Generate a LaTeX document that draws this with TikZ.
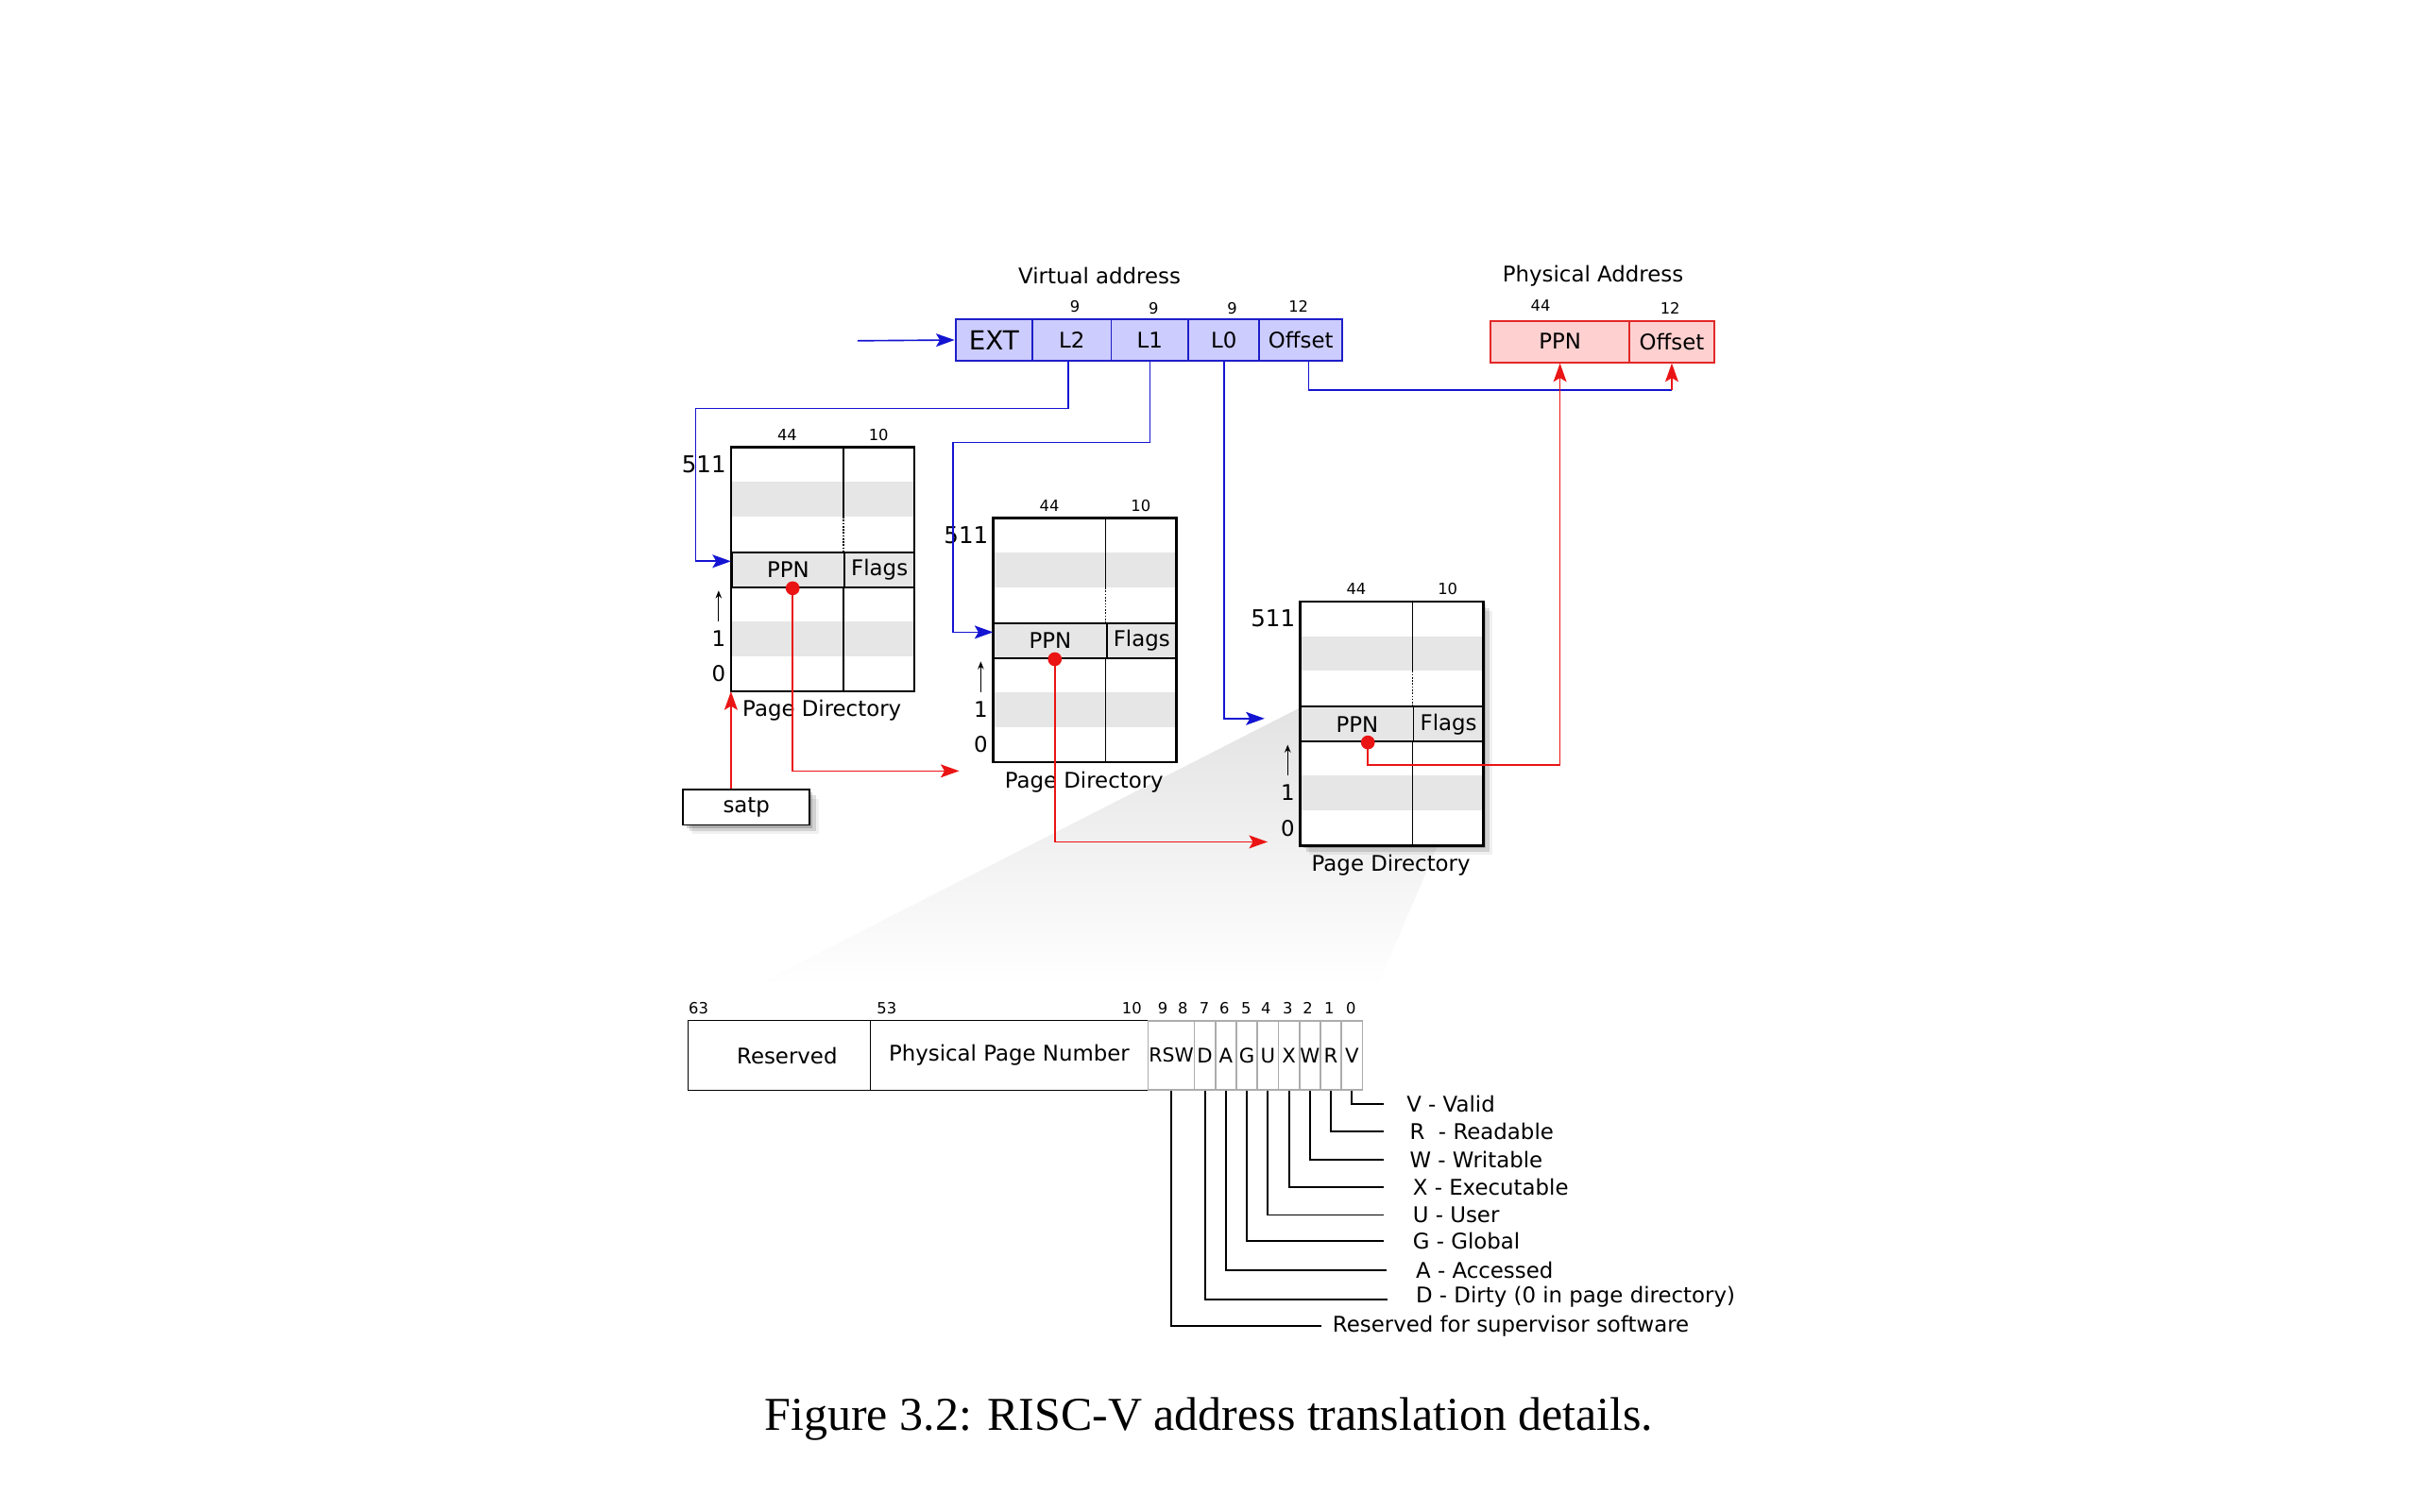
\documentclass[tikz,border=0pt]{standalone}
\usepackage{fontspec}
\setmainfont{DejaVu Sans}
\newfontfamily\capfont{Liberation Serif}
\usetikzlibrary{arrows.meta,shadows,calc}

\definecolor{vafill}{RGB}{204,204,255}
\definecolor{vaborder}{RGB}{30,30,200}
\definecolor{pafill}{RGB}{255,208,208}
\definecolor{paborder}{RGB}{225,40,40}
\definecolor{bluec}{RGB}{20,20,210}
\definecolor{redc}{RGB}{235,20,20}
\definecolor{rowgray}{RGB}{230,230,230}

\tikzset{
  txt/.style={font=\fontsize{14}{16}\selectfont, inner sep=0pt},
  smallnum/.style={font=\fontsize{10}{12}\selectfont, inner sep=0pt},
  bignum/.style={font=\fontsize{15}{17}\selectfont, inner sep=0pt},
  vabox/.style={draw=vaborder, fill=vafill, line width=1.2pt, minimum height=27pt, inner sep=0pt, anchor=west, font=\fontsize{14}{16}\selectfont},
  pabox/.style={draw=paborder, fill=pafill, line width=1.2pt, minimum height=27pt, inner sep=0pt, anchor=west, font=\fontsize{14}{16}\selectfont},
  bluearr/.style={draw=bluec, line width=1pt, -{Stealth[length=12pt,width=8.5pt,inset=2.5pt]}},
  blueline/.style={draw=bluec, line width=1pt},
  redarr/.style={draw=redc, line width=1pt, -{Stealth[length=12pt,width=8.5pt,inset=2.5pt]}},
  pdfill/.style={fill=white, minimum width=118.5pt, minimum height=158pt, inner sep=0pt},
  pdline/.style={line width=1.5pt},
  ppncell/.style={draw, fill=rowgray, line width=1.2pt, minimum height=22.6pt, inner sep=0pt, font=\fontsize{14}{16}\selectfont},
  bitbox/.style={draw, line width=0.8pt, minimum height=45pt, inner sep=0pt, anchor=west, font=\fontsize{14}{16}\selectfont},
  flagbox/.style={draw=gray!65, line width=1pt, minimum height=45pt, inner sep=0pt, anchor=west, font=\fontsize{13}{15}\selectfont},
  leader/.style={draw, line width=1.1pt},
  shadowbox/.style={
    drop shadow={shadow xshift=2pt, shadow yshift=-2pt, opacity=0.18, fill=black},
    drop shadow={shadow xshift=4pt, shadow yshift=-4pt, opacity=0.12, fill=black},
    drop shadow={shadow xshift=6pt, shadow yshift=-6pt, opacity=0.06, fill=black}}
}

\newcommand{\pagedir}[5]{%
  \node[pdfill, #4, anchor=north west] (#1) at (#2,#3) {};
  \fill[rowgray] (#2,{#3+22.6}) rectangle ({#2+118.5},{#3+45.1});
  \fill[rowgray] (#2,{#3+112.9}) rectangle ({#2+118.5},{#3+135.4});
  \node[ppncell, minimum width=73pt, anchor=north west] (#1ppn) at (#2,{#3+67.7}) {PPN};
  \node[ppncell, minimum width=45.5pt, anchor=north west] (#1flags) at ({#2+73},{#3+67.7}) {Flags};
  \draw[line width=1pt] ({#2+73},#3) -- ({#2+73},{#3+45.1});
  \draw[line width=1pt, densely dotted] ({#2+73},{#3+45.1}) -- ({#2+73},{#3+67.7});
  \draw[line width=1pt] ({#2+73},{#3+90.3}) -- ({#2+73},{#3+158});
  \draw[pdline] (#1.north west) rectangle (#1.south east);
  \node[smallnum] at ({#2+36.5},{#3-8}) {44};
  \node[smallnum] at ({#2+95.75},{#3-8}) {10};
  \node[bignum, anchor=east] at ({#2-3},{#3+11.3}) {511};
  \node[txt] at ({#2-8},{#3+124}) {1};
  \node[txt] at ({#2-8},{#3+147}) {0};
  \draw[line width=0.8pt, -{Stealth[length=5pt,width=4pt]}] ({#2-8},{#3+113}) -- ({#2-8},{#3+93});
  \node[txt] at ({#2+59},{#3+171}) {Page Directory};
  \coordinate (#1dot) at ($(#1ppn.south west)+(#5,0)$);
}

\begin{document}
\begin{tikzpicture}[x=1pt,y=-1pt]
\useasboundingbox (0,0) rectangle (1568,980);
\fill[white] (0,0) rectangle (1568,980);

% fading wedge from the PTE to the bit layout
\shade[top color=gray!22, bottom color=white] (843,459) -- (961,481) -- (893,640) -- (488,640) -- cycle;

% virtual address
\node[txt] (valbl) at (713,179) {Virtual address};
\node[vabox, minimum width=50pt, font=\fontsize{17}{19}\selectfont] (ext) at (619,220.5) {EXT};
\node[vabox, minimum width=51pt] (l2) at (669,220.5) {L2};
\node[vabox, minimum width=50pt] (l1) at (720,220.5) {L1};
\node[vabox, minimum width=46pt] (l0) at (770,220.5) {L0};
\node[vabox, minimum width=54pt] (voff) at (816,220.5) {Offset};
\node[smallnum] (n9a) at (697,199) {9};
\node[smallnum] (n9b) at (748,200) {9};
\node[smallnum] (n9c) at (799,200) {9};
\node[smallnum] (n12a) at (842,199) {12};
\coordinate (vin) at (556,221);
\draw[bluearr] (vin) -- (ext.west);

% physical address
\node[txt] (palbl) at (1033,179) {Physical Address};
\node[pabox, minimum width=90pt] (pppn) at (966,221.5) {PPN};
\node[pabox, minimum width=55pt] (poff) at (1056,221.5) {Offset};
\node[smallnum] (n44p) at (999,198) {44};
\node[smallnum] (n12p) at (1083,200) {12};

% page directories
\pagedir{pda}{474}{290}{}{40}
\pagedir{pdb}{644}{336}{}{40}
\pagedir{pdc}{843}{390}{shadowbox}{44}

% satp
\node[draw, line width=1.2pt, fill=white, minimum width=82pt, minimum height=23pt, shadowbox, txt] (satp) at (484,523.5) {satp};

% coordinates for free ends
\coordinate (pdaend) at (622,500);
\coordinate (pdbend) at (822,546);
\coordinate (l0end) at (820,466);
\coordinate (offturn) at (poff.south |- 0,253);

% blue connectors
\draw[bluearr] ($(l2.south)+(-2.5,0)$) |- (451,265) |- (pda.west |- 0,364);
\draw[bluearr] (l1.south) |- (618,287) |- (pdb.west |- 0,410);
\draw[bluearr] (l0.south) |- (l0end);
\draw[blueline] ($(voff.south)+(5,0)$) |- (offturn);
\draw[redarr] (offturn) -- (poff.south);

% red connectors
\draw[redarr] (satp.north -| pda.west) -- (pda.south west);
\draw[redarr] (pdadot) |- (pdaend);
\draw[redarr] (pdbdot) |- (pdbend);
\draw[redarr] (pdcdot) |- (pppn.south |- 0,496) -- (pppn.south);
\fill[redc] (pdadot) circle (4.5pt);
\fill[redc] (pdbdot) circle (4.5pt);
\fill[redc] (pdcdot) circle (4.5pt);

% PTE bit layout
\node[bitbox, minimum width=118pt] (bres) at (446,684.5) {\hspace*{10pt}Reserved};
\node[bitbox, minimum width=180pt] (bppn) at (564,684.5) {Physical Page Number};
\node[flagbox, minimum width=30pt, font=\fontsize{12.5}{14}\selectfont] (brsw) at (744,684.5) {RSW};
\foreach \l [count=\i from 0] in {D,A,G,U,X,W,R,V}
  \node[flagbox, minimum width=13.625pt] (b\l) at ({774+13.625*\i},684.5) {\l};

\foreach \t/\x in {63/453,53/575,10/734,9/754,8/767,7/781,6/794,5/808,4/821,3/835,2/848,1/862,0/876}
  \node[smallnum] at (\x,654) {\t};

% leaders
\draw[leader] (bV.south) |- (897,716);
\draw[leader] (bR.south) |- (897,734);
\draw[leader] (bW.south) |- (897,752);
\draw[leader] (bX.south) |- (897,770);
\draw[leader] (bU.south) |- (897,788);
\draw[leader] (bG.south) |- (897,805);
\draw[leader] (bA.south) |- (899,824);
\draw[leader] (bD.south) |- (900,843);
\draw[leader] (brsw.south) |- (857,860);

\node[txt, anchor=west] (lV) at (912,716) {V - Valid};
\node[txt, anchor=west] (lR) at (914,734) {R~ - Readable};
\node[txt, anchor=west] (lW) at (914,752) {W - Writable};
\node[txt, anchor=west] (lX) at (916,770) {X - Executable};
\node[txt, anchor=west] (lU) at (916,788) {U - User};
\node[txt, anchor=west] (lG) at (916,805) {G - Global};
\node[txt, anchor=west] (lA) at (918,824) {A - Accessed};
\node[txt, anchor=west] (lD) at (918,841) {D - Dirty (0 in page directory)};
\node[txt, anchor=west] (lRSW) at (864,860) {Reserved for supervisor software};

% caption
\node[font=\capfont\fontsize{30.6}{36}\selectfont, inner sep=0pt] (cap) at (784,920) {Figure 3.2: RISC-V address translation details.};
\end{tikzpicture}
\end{document}
